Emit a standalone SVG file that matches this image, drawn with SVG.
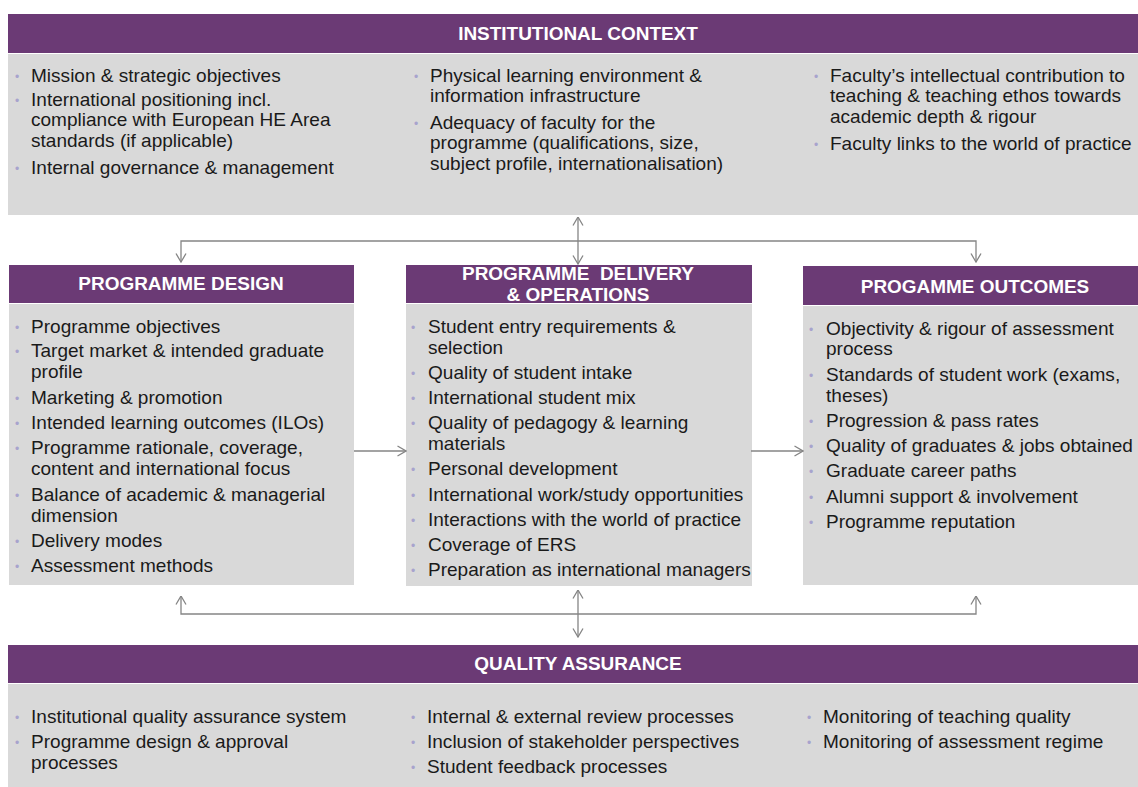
<svg xmlns="http://www.w3.org/2000/svg" width="1138" height="787" viewBox="0 0 1138 787">
<defs>
<style>
.hb{fill:#6b3a75}
.bd{fill:#d9d9d9}
.hd{font-family:"Liberation Sans",Arial,sans-serif;font-weight:bold;font-size:18.6px;fill:#fff;text-anchor:middle;transform-box:fill-box;transform-origin:50% 50%;transform:scaleX(1.02);white-space:pre}
.t{font-family:"Liberation Sans",Arial,sans-serif;font-size:18.4px;fill:#1a1a1a;transform-box:fill-box;transform-origin:0 0;transform:scaleX(1.035)}
.b{font-family:"Liberation Sans",Arial,sans-serif;font-size:12px;fill:#a7a3cd}
.c{fill:none;stroke:#858585;stroke-width:1.3}
</style>
<marker id="ah" viewBox="0 0 10 12" refX="9.5" refY="6" markerWidth="10" markerHeight="12" markerUnits="userSpaceOnUse" orient="auto-start-reverse"><path d="M1,1 L9.5,6 L1,11" fill="none" stroke="#858585" stroke-width="1.3"/></marker>
</defs>
<rect width="1138" height="787" fill="#fff"/>

<g id="institutional-context">
<rect class="hb" x="8" y="14" width="1130" height="39"/>
<rect class="bd" x="8" y="54" width="1130" height="161"/>
<text class="hd" x="578" y="40">INSTITUTIONAL CONTEXT</text>
<text class="b" x="15" y="81">•</text><text class="t" x="31" y="82">Mission &amp; strategic objectives</text>
<text class="b" x="15" y="105">•</text><text class="t" x="31" y="106">International positioning incl.</text>
<text class="t" x="31" y="126.5">compliance with European HE Area</text>
<text class="t" x="31" y="147">standards (if applicable)</text>
<text class="b" x="15" y="173">•</text><text class="t" x="31" y="174">Internal governance &amp; management</text>
<text class="b" x="414" y="81">•</text><text class="t" x="430" y="82">Physical learning environment &amp;</text>
<text class="t" x="430" y="102.5">information infrastructure</text>
<text class="b" x="414" y="128">•</text><text class="t" x="430" y="129">Adequacy of faculty for the</text>
<text class="t" x="430" y="149.5">programme (qualifications, size,</text>
<text class="t" x="430" y="170">subject profile, internationalisation)</text>
<text class="b" x="814" y="81">•</text><text class="t" x="830" y="82">Faculty’s intellectual contribution to</text>
<text class="t" x="830" y="102.5">teaching &amp; teaching ethos towards</text>
<text class="t" x="830" y="123">academic depth &amp; rigour</text>
<text class="b" x="814" y="149">•</text><text class="t" x="830" y="150">Faculty links to the world of practice</text>
</g>

<g id="programme-design">
<rect class="hb" x="9" y="265" width="345" height="38"/>
<rect class="bd" x="9" y="304" width="345" height="281"/>
<text class="hd" x="181" y="290">PROGRAMME DESIGN</text>
<text class="b" x="15" y="332">•</text><text class="t" x="31" y="333">Programme objectives</text>
<text class="b" x="15" y="356">•</text><text class="t" x="31" y="357">Target market &amp; intended graduate</text>
<text class="t" x="31" y="378">profile</text>
<text class="b" x="15" y="403">•</text><text class="t" x="31" y="404">Marketing &amp; promotion</text>
<text class="b" x="15" y="428">•</text><text class="t" x="31" y="429">Intended learning outcomes (ILOs)</text>
<text class="b" x="15" y="453">•</text><text class="t" x="31" y="454">Programme rationale, coverage,</text>
<text class="t" x="31" y="475">content and international focus</text>
<text class="b" x="15" y="500">•</text><text class="t" x="31" y="501">Balance of academic &amp; managerial</text>
<text class="t" x="31" y="522">dimension</text>
<text class="b" x="15" y="546">•</text><text class="t" x="31" y="547">Delivery modes</text>
<text class="b" x="15" y="571">•</text><text class="t" x="31" y="572">Assessment methods</text>
</g>

<g id="programme-delivery">
<rect class="hb" x="406" y="265" width="346" height="38"/>
<rect class="bd" x="406" y="304" width="346" height="282"/>
<text class="hd" x="578" y="280">PROGRAMME  DELIVERY</text>
<text class="hd" x="578" y="301">&amp; OPERATIONS</text>
<text class="b" x="411" y="332">•</text><text class="t" x="428" y="333">Student entry requirements &amp;</text>
<text class="t" x="428" y="354">selection</text>
<text class="b" x="411" y="378">•</text><text class="t" x="428" y="379">Quality of student intake</text>
<text class="b" x="411" y="403">•</text><text class="t" x="428" y="404">International student mix</text>
<text class="b" x="411" y="428">•</text><text class="t" x="428" y="429">Quality of pedagogy &amp; learning</text>
<text class="t" x="428" y="450">materials</text>
<text class="b" x="411" y="474">•</text><text class="t" x="428" y="475">Personal development</text>
<text class="b" x="411" y="500">•</text><text class="t" x="428" y="501">International work/study opportunities</text>
<text class="b" x="411" y="525">•</text><text class="t" x="428" y="526">Interactions with the world of practice</text>
<text class="b" x="411" y="550">•</text><text class="t" x="428" y="551">Coverage of ERS</text>
<text class="b" x="411" y="575">•</text><text class="t" x="428" y="576">Preparation as international managers</text>
</g>

<g id="programme-outcomes">
<rect class="hb" x="803" y="266" width="335" height="39"/>
<rect class="bd" x="803" y="306" width="335" height="279"/>
<text class="hd" x="975" y="293">PROGAMME OUTCOMES</text>
<text class="b" x="809" y="334">•</text><text class="t" x="826" y="335">Objectivity &amp; rigour of assessment</text>
<text class="t" x="826" y="355">process</text>
<text class="b" x="809" y="380">•</text><text class="t" x="826" y="381">Standards of student work (exams,</text>
<text class="t" x="826" y="402">theses)</text>
<text class="b" x="809" y="426">•</text><text class="t" x="826" y="427">Progression &amp; pass rates</text>
<text class="b" x="809" y="451">•</text><text class="t" x="826" y="452">Quality of graduates &amp; jobs obtained</text>
<text class="b" x="809" y="476">•</text><text class="t" x="826" y="477">Graduate career paths</text>
<text class="b" x="809" y="502">•</text><text class="t" x="826" y="503">Alumni support &amp; involvement</text>
<text class="b" x="809" y="527">•</text><text class="t" x="826" y="528">Programme reputation</text>
</g>

<g id="quality-assurance">
<rect class="hb" x="8" y="645" width="1130" height="38"/>
<rect class="bd" x="8" y="684" width="1130" height="103"/>
<text class="hd" x="578" y="670">QUALITY ASSURANCE</text>
<text class="b" x="15" y="722">•</text><text class="t" x="31" y="723">Institutional quality assurance system</text>
<text class="b" x="15" y="747">•</text><text class="t" x="31" y="748">Programme design &amp; approval</text>
<text class="t" x="31" y="769">processes</text>
<text class="b" x="411" y="722">•</text><text class="t" x="427" y="723">Internal &amp; external review processes</text>
<text class="b" x="411" y="747">•</text><text class="t" x="427" y="748">Inclusion of stakeholder perspectives</text>
<text class="b" x="411" y="772">•</text><text class="t" x="427" y="773">Student feedback processes</text>
<text class="b" x="807" y="722">•</text><text class="t" x="823" y="723">Monitoring of teaching quality</text>
<text class="b" x="807" y="747">•</text><text class="t" x="823" y="748">Monitoring of assessment regime</text>
</g>

<g id="connectors">
<path class="c" d="M578,264 V217" marker-start="url(#ah)" marker-end="url(#ah)"/>
<path class="c" d="M181,262 V241 H976 V262" marker-start="url(#ah)" marker-end="url(#ah)"/>
<path class="c" d="M354,451 H406" marker-end="url(#ah)"/>
<path class="c" d="M751,451 H803" marker-end="url(#ah)"/>
<path class="c" d="M181,596 V614 H976 V596" marker-start="url(#ah)" marker-end="url(#ah)"/>
<path class="c" d="M578,590 V637" marker-start="url(#ah)" marker-end="url(#ah)"/>
</g>
</svg>
